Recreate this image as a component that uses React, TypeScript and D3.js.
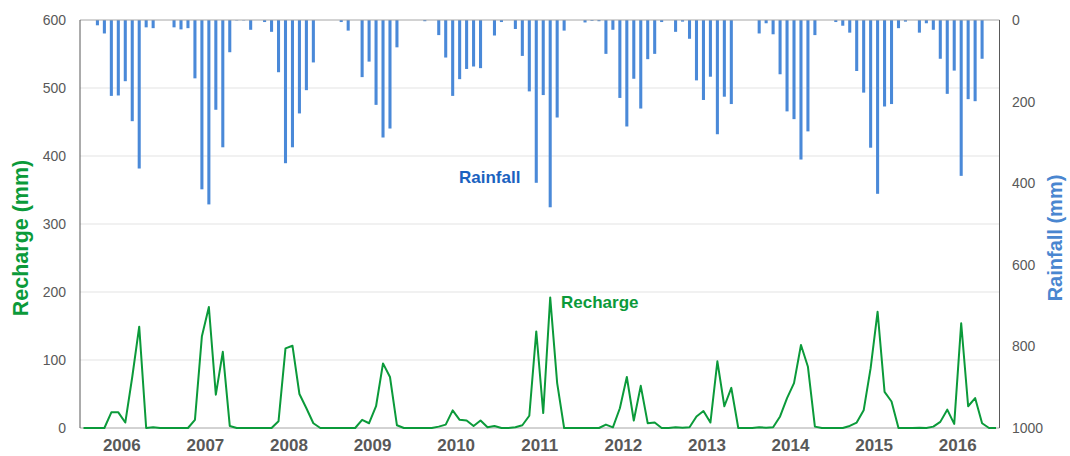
import React from 'react';
import * as d3 from 'd3';

// monthly values, Jan 2006 .. Dec 2016
const years = ['2006', '2007', '2008', '2009', '2010', '2011', '2012', '2013', '2014', '2015', '2016'];

const rainfall = [
  0, 0, 13, 33, 186, 185, 150, 248, 364, 18, 20, 0,
  0, 18, 23, 20, 143, 415, 452, 220, 312, 79, 1, 1,
  24, 0, 5, 29, 128, 351, 312, 229, 172, 104, 0, 0,
  0, 5, 26, 0, 140, 102, 208, 288, 266, 67, 0, 0,
  0, 3, 0, 37, 92, 186, 145, 120, 114, 118, 0, 38,
  5, 0, 22, 88, 175, 399, 184, 459, 239, 26, 0, 0,
  6, 2, 3, 83, 24, 191, 261, 144, 217, 96, 83, 5,
  0, 29, 4, 46, 148, 196, 139, 280, 188, 206, 0, 0,
  0, 33, 8, 35, 133, 224, 243, 342, 273, 37, 0, 0,
  5, 14, 31, 125, 178, 313, 426, 212, 206, 20, 4, 0,
  31, 8, 24, 95, 181, 124, 382, 194, 199, 95, 0, 0,
];

const recharge = [
  0, 0, 0, 0, 23, 23, 8, 75, 149, 0, 1, 0,
  0, 0, 0, 0, 12, 135, 178, 49, 112, 3, 0, 0,
  0, 0, 0, 0, 10, 117, 121, 50, 29, 7, 0, 0,
  0, 0, 0, 0, 12, 7, 32, 95, 75, 4, 0, 0,
  0, 0, 0, 2, 5, 26, 12, 11, 3, 11, 1, 3,
  0, 0, 1, 4, 18, 142, 22, 192, 66, 0, 0, 0,
  0, 0, 0, 5, 1, 29, 75, 11, 62, 7, 8, 0,
  0, 1, 0.5, 1, 17, 25, 8, 98, 32, 59, 0, 0,
  0, 1, 0.5, 1, 17, 44, 66, 122, 90, 2, 0, 0,
  0, 0, 3, 8, 26, 88, 171, 53, 39, 0, 0, 0,
  0.5, 0, 2, 9, 27, 6, 154, 32, 44, 7, 0, 0,
];

const leftTicks = [0, 100, 200, 300, 400, 500, 600];
const rightTicks = [0, 200, 400, 600, 800, 1000];

const W = 1070;
const H = 456;
const plot = { left: 80, right: 999.5, top: 20, bottom: 428 };
const FONT = '"Liberation Sans", Arial, sans-serif';
const BAR = '#4a89d8';
const LINE = '#0b9a3a';
const GREY = '#595959';

export default function App() {
  const months = d3.range(rainfall.length);

  const x = d3.scaleBand<number>()
    .domain(months)
    .range([plot.left, plot.right])
    .paddingInner(0.56)
    .paddingOuter(0.28);

  const xYear = d3.scaleBand<string>()
    .domain(years)
    .range([plot.left, plot.right]);

  const yLeft = d3.scaleLinear().domain([0, 600]).range([plot.bottom, plot.top]);
  const yRight = d3.scaleLinear().domain([0, 1000]).range([plot.top, plot.bottom]);

  const line = d3.line<number>()
    .x((_, i) => (x(i) as number) + x.bandwidth() / 2)
    .y(d => yLeft(d));

  return (
    <svg width={W} height={H} style={{ position: 'absolute', left: 0, top: 0, background: '#fff' }}>
      {/* gridlines */}
      {leftTicks.filter(t => t > 0 && t < 600).map(t => (
        <line key={t} x1={plot.left} x2={plot.right} y1={yLeft(t)} y2={yLeft(t)} stroke="#e3e3e3" strokeWidth={1} />
      ))}

      {/* rainfall bars hanging from the top */}
      {rainfall.map((v, i) => (
        v > 0 ? (
          <rect
            key={i}
            x={x(i)}
            y={yRight(0)}
            width={x.bandwidth()}
            height={yRight(v) - yRight(0)}
            fill={BAR}
          />
        ) : null
      ))}

      {/* frame */}
      <line x1={plot.left} x2={plot.right} y1={plot.top} y2={plot.top} stroke="#a6a6a6" strokeWidth={1} />
      <line x1={plot.left} x2={plot.right} y1={plot.bottom} y2={plot.bottom} stroke="#a6a6a6" strokeWidth={1} />
      <line x1={plot.left} x2={plot.left} y1={plot.top} y2={plot.bottom} stroke="#595959" strokeWidth={1} />
      <line x1={plot.right} x2={plot.right} y1={plot.top} y2={plot.bottom} stroke="#595959" strokeWidth={1} />

      {/* recharge line */}
      <path d={line(recharge) || ''} fill="none" stroke={LINE} strokeWidth={2} strokeLinejoin="round" />

      {/* left ticks */}
      {leftTicks.map(t => (
        <text key={t} x={66} y={yLeft(t)} dy="0.35em" textAnchor="end" fontFamily={FONT} fontSize={14} fill={GREY}>{t}</text>
      ))}

      {/* right ticks */}
      {rightTicks.map(t => (
        <text key={t} x={1012} y={yRight(t)} dy="0.35em" textAnchor="start" fontFamily={FONT} fontSize={14} fill={GREY}>{t}</text>
      ))}

      {/* year labels */}
      {years.map(yr => (
        <text key={yr} x={(xYear(yr) as number) + xYear.bandwidth() / 2} y={451} textAnchor="middle" fontFamily={FONT} fontSize={17} fontWeight="bold" fill={GREY}>{yr}</text>
      ))}

      {/* axis titles */}
      <text transform="translate(28,238) rotate(-90)" textAnchor="middle" fontFamily={FONT} fontSize={21.5} fontWeight="bold" fill={LINE}>Recharge (mm)</text>
      <text transform="translate(1062,238) rotate(-90)" textAnchor="middle" fontFamily={FONT} fontSize={20} fontWeight="bold" fill="#4a86d0">Rainfall (mm)</text>

      {/* series labels */}
      <text x={459} y={183} fontFamily={FONT} fontSize={17} fontWeight="bold" fill="#1a62c0">Rainfall</text>
      <text x={561} y={308} fontFamily={FONT} fontSize={17} fontWeight="bold" fill={LINE}>Recharge</text>
    </svg>
  );
}
